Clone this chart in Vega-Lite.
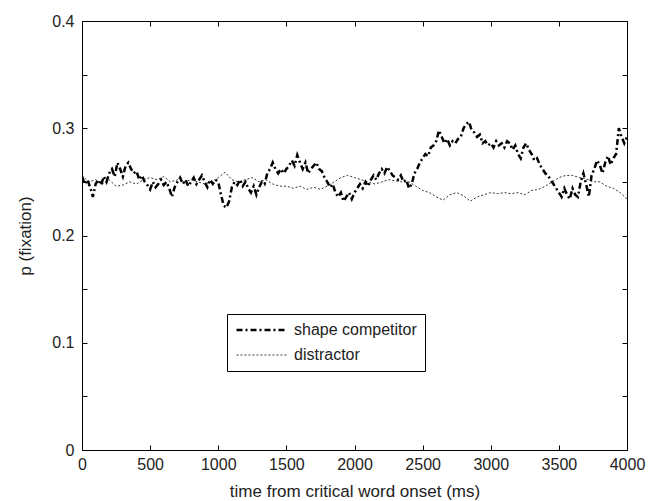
{
  "$schema": "https://vega.github.io/schema/vega-lite/v6.json",
  "width": 545,
  "height": 429,
  "autosize": "none",
  "padding": {"left": 82, "top": 21, "right": 33, "bottom": 51},
  "background": "white",
  "config": {
    "font": "Liberation Sans",
    "view": {"stroke": "black", "strokeWidth": 1},
    "axis": {"grid": false, "domain": false, "tickColor": "black", "tickWidth": 1, "labelColor": "#222", "labelFontSize": 16, "titleFontSize": 17, "titleFontWeight": "normal", "titleColor": "#222", "labelFont": "Liberation Sans", "titleFont": "Liberation Sans", "labelFlush": false, "labelOverlap": false}
  },
  "datasets": {
    "d": [
      {"t":0,"p":0.255,"s":"shape competitor"},{"t":20,"p":0.248,"s":"shape competitor"},{"t":40,"p":0.252,"s":"shape competitor"},{"t":60,"p":0.245,"s":"shape competitor"},{"t":80,"p":0.236,"s":"shape competitor"},{"t":100,"p":0.248,"s":"shape competitor"},{"t":120,"p":0.252,"s":"shape competitor"},{"t":140,"p":0.247,"s":"shape competitor"},{"t":160,"p":0.255,"s":"shape competitor"},{"t":180,"p":0.250,"s":"shape competitor"},{"t":200,"p":0.258,"s":"shape competitor"},{"t":220,"p":0.262,"s":"shape competitor"},{"t":240,"p":0.255,"s":"shape competitor"},{"t":260,"p":0.268,"s":"shape competitor"},{"t":280,"p":0.262,"s":"shape competitor"},{"t":300,"p":0.255,"s":"shape competitor"},{"t":320,"p":0.265,"s":"shape competitor"},{"t":340,"p":0.268,"s":"shape competitor"},{"t":360,"p":0.262,"s":"shape competitor"},{"t":380,"p":0.258,"s":"shape competitor"},{"t":400,"p":0.260,"s":"shape competitor"},{"t":420,"p":0.252,"s":"shape competitor"},{"t":440,"p":0.256,"s":"shape competitor"},{"t":460,"p":0.250,"s":"shape competitor"},{"t":480,"p":0.247,"s":"shape competitor"},{"t":500,"p":0.243,"s":"shape competitor"},{"t":520,"p":0.250,"s":"shape competitor"},{"t":540,"p":0.245,"s":"shape competitor"},{"t":560,"p":0.248,"s":"shape competitor"},{"t":580,"p":0.252,"s":"shape competitor"},{"t":600,"p":0.247,"s":"shape competitor"},{"t":620,"p":0.250,"s":"shape competitor"},{"t":640,"p":0.244,"s":"shape competitor"},{"t":660,"p":0.236,"s":"shape competitor"},{"t":680,"p":0.245,"s":"shape competitor"},{"t":700,"p":0.250,"s":"shape competitor"},{"t":720,"p":0.254,"s":"shape competitor"},{"t":740,"p":0.248,"s":"shape competitor"},{"t":760,"p":0.252,"s":"shape competitor"},{"t":780,"p":0.246,"s":"shape competitor"},{"t":800,"p":0.250,"s":"shape competitor"},{"t":820,"p":0.254,"s":"shape competitor"},{"t":840,"p":0.248,"s":"shape competitor"},{"t":860,"p":0.252,"s":"shape competitor"},{"t":880,"p":0.256,"s":"shape competitor"},{"t":900,"p":0.250,"s":"shape competitor"},{"t":920,"p":0.245,"s":"shape competitor"},{"t":940,"p":0.252,"s":"shape competitor"},{"t":960,"p":0.248,"s":"shape competitor"},{"t":980,"p":0.252,"s":"shape competitor"},{"t":1000,"p":0.250,"s":"shape competitor"},{"t":1020,"p":0.238,"s":"shape competitor"},{"t":1040,"p":0.228,"s":"shape competitor"},{"t":1060,"p":0.226,"s":"shape competitor"},{"t":1080,"p":0.232,"s":"shape competitor"},{"t":1100,"p":0.245,"s":"shape competitor"},{"t":1120,"p":0.250,"s":"shape competitor"},{"t":1140,"p":0.247,"s":"shape competitor"},{"t":1160,"p":0.252,"s":"shape competitor"},{"t":1180,"p":0.246,"s":"shape competitor"},{"t":1200,"p":0.250,"s":"shape competitor"},{"t":1220,"p":0.244,"s":"shape competitor"},{"t":1240,"p":0.240,"s":"shape competitor"},{"t":1260,"p":0.246,"s":"shape competitor"},{"t":1280,"p":0.238,"s":"shape competitor"},{"t":1300,"p":0.245,"s":"shape competitor"},{"t":1320,"p":0.250,"s":"shape competitor"},{"t":1340,"p":0.248,"s":"shape competitor"},{"t":1360,"p":0.258,"s":"shape competitor"},{"t":1380,"p":0.262,"s":"shape competitor"},{"t":1400,"p":0.268,"s":"shape competitor"},{"t":1420,"p":0.262,"s":"shape competitor"},{"t":1440,"p":0.258,"s":"shape competitor"},{"t":1460,"p":0.262,"s":"shape competitor"},{"t":1480,"p":0.258,"s":"shape competitor"},{"t":1500,"p":0.262,"s":"shape competitor"},{"t":1520,"p":0.265,"s":"shape competitor"},{"t":1540,"p":0.270,"s":"shape competitor"},{"t":1560,"p":0.265,"s":"shape competitor"},{"t":1580,"p":0.275,"s":"shape competitor"},{"t":1600,"p":0.268,"s":"shape competitor"},{"t":1620,"p":0.262,"s":"shape competitor"},{"t":1640,"p":0.268,"s":"shape competitor"},{"t":1660,"p":0.258,"s":"shape competitor"},{"t":1680,"p":0.262,"s":"shape competitor"},{"t":1700,"p":0.265,"s":"shape competitor"},{"t":1720,"p":0.268,"s":"shape competitor"},{"t":1740,"p":0.262,"s":"shape competitor"},{"t":1760,"p":0.260,"s":"shape competitor"},{"t":1780,"p":0.254,"s":"shape competitor"},{"t":1800,"p":0.250,"s":"shape competitor"},{"t":1820,"p":0.245,"s":"shape competitor"},{"t":1840,"p":0.248,"s":"shape competitor"},{"t":1860,"p":0.240,"s":"shape competitor"},{"t":1880,"p":0.236,"s":"shape competitor"},{"t":1900,"p":0.240,"s":"shape competitor"},{"t":1920,"p":0.232,"s":"shape competitor"},{"t":1940,"p":0.236,"s":"shape competitor"},{"t":1960,"p":0.240,"s":"shape competitor"},{"t":1980,"p":0.234,"s":"shape competitor"},{"t":2000,"p":0.240,"s":"shape competitor"},{"t":2020,"p":0.244,"s":"shape competitor"},{"t":2040,"p":0.248,"s":"shape competitor"},{"t":2060,"p":0.244,"s":"shape competitor"},{"t":2080,"p":0.250,"s":"shape competitor"},{"t":2100,"p":0.246,"s":"shape competitor"},{"t":2120,"p":0.252,"s":"shape competitor"},{"t":2140,"p":0.256,"s":"shape competitor"},{"t":2160,"p":0.252,"s":"shape competitor"},{"t":2180,"p":0.258,"s":"shape competitor"},{"t":2200,"p":0.262,"s":"shape competitor"},{"t":2220,"p":0.258,"s":"shape competitor"},{"t":2240,"p":0.264,"s":"shape competitor"},{"t":2260,"p":0.260,"s":"shape competitor"},{"t":2280,"p":0.256,"s":"shape competitor"},{"t":2300,"p":0.254,"s":"shape competitor"},{"t":2320,"p":0.252,"s":"shape competitor"},{"t":2340,"p":0.256,"s":"shape competitor"},{"t":2360,"p":0.250,"s":"shape competitor"},{"t":2380,"p":0.252,"s":"shape competitor"},{"t":2400,"p":0.244,"s":"shape competitor"},{"t":2420,"p":0.248,"s":"shape competitor"},{"t":2440,"p":0.258,"s":"shape competitor"},{"t":2460,"p":0.262,"s":"shape competitor"},{"t":2480,"p":0.268,"s":"shape competitor"},{"t":2500,"p":0.272,"s":"shape competitor"},{"t":2520,"p":0.276,"s":"shape competitor"},{"t":2540,"p":0.274,"s":"shape competitor"},{"t":2560,"p":0.282,"s":"shape competitor"},{"t":2580,"p":0.284,"s":"shape competitor"},{"t":2600,"p":0.288,"s":"shape competitor"},{"t":2620,"p":0.298,"s":"shape competitor"},{"t":2640,"p":0.292,"s":"shape competitor"},{"t":2660,"p":0.286,"s":"shape competitor"},{"t":2680,"p":0.290,"s":"shape competitor"},{"t":2700,"p":0.284,"s":"shape competitor"},{"t":2720,"p":0.288,"s":"shape competitor"},{"t":2740,"p":0.286,"s":"shape competitor"},{"t":2760,"p":0.290,"s":"shape competitor"},{"t":2780,"p":0.292,"s":"shape competitor"},{"t":2800,"p":0.300,"s":"shape competitor"},{"t":2820,"p":0.304,"s":"shape competitor"},{"t":2840,"p":0.306,"s":"shape competitor"},{"t":2860,"p":0.298,"s":"shape competitor"},{"t":2880,"p":0.296,"s":"shape competitor"},{"t":2900,"p":0.292,"s":"shape competitor"},{"t":2920,"p":0.294,"s":"shape competitor"},{"t":2940,"p":0.286,"s":"shape competitor"},{"t":2960,"p":0.288,"s":"shape competitor"},{"t":2980,"p":0.284,"s":"shape competitor"},{"t":3000,"p":0.286,"s":"shape competitor"},{"t":3020,"p":0.282,"s":"shape competitor"},{"t":3040,"p":0.288,"s":"shape competitor"},{"t":3060,"p":0.284,"s":"shape competitor"},{"t":3080,"p":0.286,"s":"shape competitor"},{"t":3100,"p":0.282,"s":"shape competitor"},{"t":3120,"p":0.288,"s":"shape competitor"},{"t":3140,"p":0.286,"s":"shape competitor"},{"t":3160,"p":0.280,"s":"shape competitor"},{"t":3180,"p":0.284,"s":"shape competitor"},{"t":3200,"p":0.276,"s":"shape competitor"},{"t":3220,"p":0.272,"s":"shape competitor"},{"t":3240,"p":0.282,"s":"shape competitor"},{"t":3260,"p":0.286,"s":"shape competitor"},{"t":3280,"p":0.280,"s":"shape competitor"},{"t":3300,"p":0.276,"s":"shape competitor"},{"t":3320,"p":0.270,"s":"shape competitor"},{"t":3340,"p":0.272,"s":"shape competitor"},{"t":3360,"p":0.266,"s":"shape competitor"},{"t":3380,"p":0.262,"s":"shape competitor"},{"t":3400,"p":0.258,"s":"shape competitor"},{"t":3420,"p":0.256,"s":"shape competitor"},{"t":3440,"p":0.252,"s":"shape competitor"},{"t":3460,"p":0.248,"s":"shape competitor"},{"t":3480,"p":0.244,"s":"shape competitor"},{"t":3500,"p":0.240,"s":"shape competitor"},{"t":3520,"p":0.236,"s":"shape competitor"},{"t":3540,"p":0.244,"s":"shape competitor"},{"t":3560,"p":0.238,"s":"shape competitor"},{"t":3580,"p":0.234,"s":"shape competitor"},{"t":3600,"p":0.244,"s":"shape competitor"},{"t":3620,"p":0.238,"s":"shape competitor"},{"t":3640,"p":0.236,"s":"shape competitor"},{"t":3660,"p":0.250,"s":"shape competitor"},{"t":3680,"p":0.258,"s":"shape competitor"},{"t":3700,"p":0.248,"s":"shape competitor"},{"t":3720,"p":0.236,"s":"shape competitor"},{"t":3740,"p":0.256,"s":"shape competitor"},{"t":3760,"p":0.262,"s":"shape competitor"},{"t":3780,"p":0.270,"s":"shape competitor"},{"t":3800,"p":0.266,"s":"shape competitor"},{"t":3820,"p":0.258,"s":"shape competitor"},{"t":3840,"p":0.268,"s":"shape competitor"},{"t":3860,"p":0.274,"s":"shape competitor"},{"t":3880,"p":0.266,"s":"shape competitor"},{"t":3900,"p":0.272,"s":"shape competitor"},{"t":3920,"p":0.276,"s":"shape competitor"},{"t":3940,"p":0.300,"s":"shape competitor"},{"t":3960,"p":0.292,"s":"shape competitor"},{"t":3980,"p":0.286,"s":"shape competitor"},{"t":4000,"p":0.292,"s":"shape competitor"},
      {"t":0,"p":0.256,"s":"distractor"},{"t":50,"p":0.250,"s":"distractor"},{"t":100,"p":0.252,"s":"distractor"},{"t":150,"p":0.248,"s":"distractor"},{"t":200,"p":0.252,"s":"distractor"},{"t":250,"p":0.246,"s":"distractor"},{"t":300,"p":0.247,"s":"distractor"},{"t":350,"p":0.250,"s":"distractor"},{"t":400,"p":0.248,"s":"distractor"},{"t":450,"p":0.252,"s":"distractor"},{"t":500,"p":0.254,"s":"distractor"},{"t":550,"p":0.252,"s":"distractor"},{"t":600,"p":0.255,"s":"distractor"},{"t":650,"p":0.250,"s":"distractor"},{"t":700,"p":0.252,"s":"distractor"},{"t":750,"p":0.250,"s":"distractor"},{"t":800,"p":0.252,"s":"distractor"},{"t":850,"p":0.250,"s":"distractor"},{"t":900,"p":0.248,"s":"distractor"},{"t":950,"p":0.250,"s":"distractor"},{"t":1000,"p":0.254,"s":"distractor"},{"t":1050,"p":0.259,"s":"distractor"},{"t":1100,"p":0.252,"s":"distractor"},{"t":1150,"p":0.250,"s":"distractor"},{"t":1200,"p":0.252,"s":"distractor"},{"t":1250,"p":0.254,"s":"distractor"},{"t":1300,"p":0.250,"s":"distractor"},{"t":1350,"p":0.252,"s":"distractor"},{"t":1400,"p":0.248,"s":"distractor"},{"t":1450,"p":0.246,"s":"distractor"},{"t":1500,"p":0.246,"s":"distractor"},{"t":1550,"p":0.244,"s":"distractor"},{"t":1600,"p":0.246,"s":"distractor"},{"t":1650,"p":0.243,"s":"distractor"},{"t":1700,"p":0.245,"s":"distractor"},{"t":1750,"p":0.243,"s":"distractor"},{"t":1800,"p":0.246,"s":"distractor"},{"t":1850,"p":0.250,"s":"distractor"},{"t":1900,"p":0.254,"s":"distractor"},{"t":1950,"p":0.256,"s":"distractor"},{"t":2000,"p":0.254,"s":"distractor"},{"t":2050,"p":0.252,"s":"distractor"},{"t":2100,"p":0.250,"s":"distractor"},{"t":2150,"p":0.248,"s":"distractor"},{"t":2200,"p":0.250,"s":"distractor"},{"t":2250,"p":0.252,"s":"distractor"},{"t":2300,"p":0.251,"s":"distractor"},{"t":2350,"p":0.250,"s":"distractor"},{"t":2400,"p":0.250,"s":"distractor"},{"t":2450,"p":0.246,"s":"distractor"},{"t":2500,"p":0.242,"s":"distractor"},{"t":2550,"p":0.240,"s":"distractor"},{"t":2600,"p":0.236,"s":"distractor"},{"t":2650,"p":0.233,"s":"distractor"},{"t":2700,"p":0.238,"s":"distractor"},{"t":2750,"p":0.240,"s":"distractor"},{"t":2800,"p":0.237,"s":"distractor"},{"t":2850,"p":0.232,"s":"distractor"},{"t":2900,"p":0.236,"s":"distractor"},{"t":2950,"p":0.238,"s":"distractor"},{"t":3000,"p":0.240,"s":"distractor"},{"t":3050,"p":0.239,"s":"distractor"},{"t":3100,"p":0.240,"s":"distractor"},{"t":3150,"p":0.239,"s":"distractor"},{"t":3200,"p":0.240,"s":"distractor"},{"t":3250,"p":0.238,"s":"distractor"},{"t":3300,"p":0.242,"s":"distractor"},{"t":3350,"p":0.243,"s":"distractor"},{"t":3400,"p":0.246,"s":"distractor"},{"t":3450,"p":0.250,"s":"distractor"},{"t":3500,"p":0.254,"s":"distractor"},{"t":3550,"p":0.256,"s":"distractor"},{"t":3600,"p":0.256,"s":"distractor"},{"t":3650,"p":0.254,"s":"distractor"},{"t":3700,"p":0.253,"s":"distractor"},{"t":3750,"p":0.250,"s":"distractor"},{"t":3800,"p":0.250,"s":"distractor"},{"t":3850,"p":0.246,"s":"distractor"},{"t":3900,"p":0.244,"s":"distractor"},{"t":3950,"p":0.240,"s":"distractor"},{"t":4000,"p":0.234,"s":"distractor"}
    ]
  },
  "data": {"name": "d"},
  "layer": [
    {
      "mark": {"type": "line", "color": "black", "clip": true},
      "encoding": {
        "x": {"field": "t", "type": "quantitative", "scale": {"domain": [0, 4000], "nice": false}, "axis": {"orient": "bottom", "values": [0,500,1000,1500,2000,2500,3000,3500,4000], "format": "d", "ticks": false, "tickSize": 0, "labelPadding": 6, "title": "time from critical word onset (ms)", "titlePadding": 11}},
        "y": {"field": "p", "type": "quantitative", "scale": {"domain": [0, 0.4], "nice": false, "zero": false}, "axis": {"orient": "left", "values": [0,0.1,0.2,0.3,0.4], "format": "~g", "ticks": false, "tickSize": 0, "labelPadding": 8, "title": "p (fixation)", "titlePadding": 17}},
        "strokeDash": {"field": "s", "type": "nominal", "scale": {"domain": ["shape competitor", "distractor"], "range": [[6,3,2,3],[2,2]]}, "legend": {"orient": "none", "legendX": 145, "legendY": 293, "title": null, "symbolType": "stroke", "symbolSize": 2600, "clipHeight": 16, "symbolStrokeColor": "black", "labelFontSize": 16, "labelColor": "#222", "labelFont": "Liberation Sans", "strokeColor": "black", "fillColor": "white", "padding": 8, "rowPadding": 9, "labelOffset": 5}},
        "strokeWidth": {"field": "s", "type": "nominal", "scale": {"domain": ["shape competitor", "distractor"], "range": [2.5, 0.8]}, "legend": {"orient": "none", "legendX": 145, "legendY": 293, "title": null, "symbolType": "stroke", "symbolSize": 2600, "clipHeight": 16, "symbolStrokeColor": "black", "labelFontSize": 16, "labelColor": "#222", "labelFont": "Liberation Sans", "strokeColor": "black", "fillColor": "white", "padding": 8, "rowPadding": 9, "labelOffset": 5}}
      }
    },
    {
      "mark": {"type": "line", "opacity": 0},
      "encoding": {
        "x": {"field": "t", "type": "quantitative", "axis": {"orient": "bottom", "offset": -5, "tickSize": 5, "values": [0,500,1000,1500,2000,2500,3000,3500,4000], "labels": false, "title": null}},
        "y": {"field": "p", "type": "quantitative", "axis": {"orient": "left", "offset": -5, "tickSize": 5, "values": [0,0.05,0.1,0.15,0.2,0.25,0.3,0.35,0.4], "labels": false, "title": null}},
        "detail": {"field": "s"}
      }
    },
    {
      "mark": {"type": "line", "opacity": 0},
      "encoding": {
        "x": {"field": "t", "type": "quantitative", "axis": {"orient": "top", "offset": -5, "tickSize": 5, "values": [0,500,1000,1500,2000,2500,3000,3500,4000], "labels": false, "title": null}},
        "y": {"field": "p", "type": "quantitative", "axis": {"orient": "right", "offset": -5, "tickSize": 5, "values": [0,0.05,0.1,0.15,0.2,0.25,0.3,0.35,0.4], "labels": false, "title": null}},
        "detail": {"field": "s"}
      }
    }
  ],
  "resolve": {"axis": {"x": "independent", "y": "independent"}}
}
